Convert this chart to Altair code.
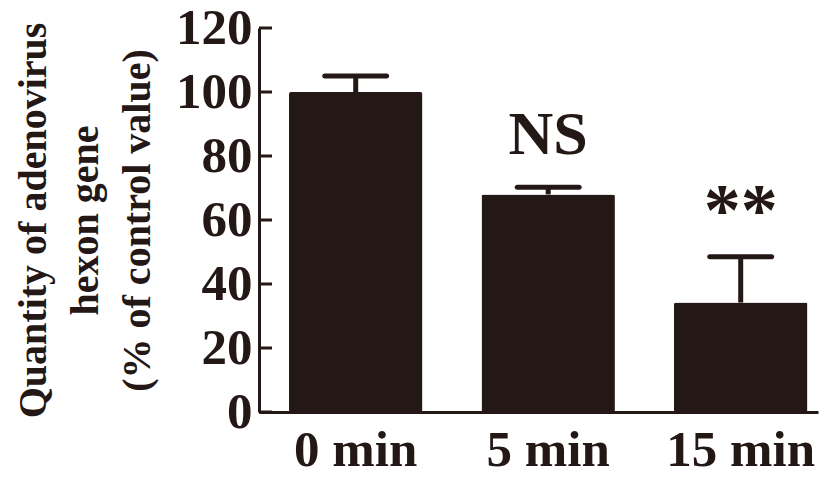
import altair as alt
import pandas as pd

categories = ["0 min", "5 min", "15 min"]
means = [100, 68, 34.2]
errors = [5, 2.2, 14.3]
tick_values = [0, 20, 40, 60, 80, 100, 120]
y_title = ["Quantity of adenovirus", "hexon gene", "(% of control value)"]
ns_label = {"time": "5 min", "note": "NS"}
star_label = {"time": "15 min", "note": "**"}

ink = "#231815"
font = "Liberation Serif"

df = pd.DataFrame({"time": categories, "mean": means, "err": errors})
df["upper"] = df["mean"] + df["err"]
ticks_df = pd.DataFrame({"v": tick_values})
ns_df = df[df["time"] == ns_label["time"]].assign(note=ns_label["note"])
star_df = df[df["time"] == star_label["time"]].assign(note=star_label["note"])

x_scale = alt.Scale(domain=categories, paddingInner=0.307, paddingOuter=0.1055, align=0.739)
y_scale = alt.Scale(domain=[0, 120], nice=False)

x_axis = alt.Axis(title=None, labelAngle=0, ticks=False, tickSize=0,
                  labelPadding=13, labelFontSize=51, labelFont=font,
                  labelFontWeight="bold", labelColor=ink,
                  domainColor=ink, domainWidth=3, grid=False)

y_axis = alt.Axis(values=tick_values, title=y_title, ticks=False, tickSize=0,
                  labelPadding=7, labelFontSize=51, labelFont=font,
                  labelFontWeight="bold", labelColor=ink, domainColor=ink,
                  domainWidth=3, grid=False, titleFont=font, titleFontSize=40,
                  titleFontWeight="bold", titleColor=ink, titleAngle=270,
                  titleLineHeight=52, titleBaseline="middle", titleAlign="center",
                  titleX=-226, titleY=192)


def xe():
    return alt.X("time:N", sort=categories, scale=x_scale, axis=x_axis)


def ye(field):
    return alt.Y(field, scale=y_scale, axis=y_axis)


bars = alt.Chart(df).mark_bar(color=ink, cornerRadius=2).encode(
    x=xe(),
    y=ye("mean:Q"),
)

stems = alt.Chart(df).mark_rule(color=ink, strokeWidth=5).encode(
    x=xe(),
    y=ye("mean:Q"),
    y2="upper:Q",
)

caps = alt.Chart(df).mark_tick(color=ink, size=67, thickness=5, cornerRadius=2.5, opacity=1).encode(
    x=xe(),
    y=ye("upper:Q"),
)

yticks = alt.Chart(ticks_df).mark_rule(color=ink, strokeWidth=3).encode(
    y=ye("v:Q"),
    x=alt.value(0),
    x2=alt.value(13),
)

ns_text = alt.Chart(ns_df).mark_text(
    dy=-33, baseline="alphabetic", fontSize=62, font=font, fontWeight="bold", color=ink
).encode(
    x=xe(),
    y=ye("upper:Q"),
    text="note:N",
)

star_text = alt.Chart(star_df).mark_text(
    dy=-22, baseline="alphabetic", fontSize=74, font=font, fontWeight="bold", color=ink
).encode(
    x=xe(),
    y=ye("upper:Q"),
    text="note:N",
)

chart = alt.layer(bars, stems, caps, yticks, ns_text, star_text).properties(
    width=559,
    height=384,
    autosize=alt.AutoSizeParams(type="none"),
    padding={"left": 251, "top": 20, "right": 2, "bottom": 58},
    background="white",
).configure_view(stroke=None)

chart.save("out.html", embed_options={"renderer": "svg", "actions": False})
